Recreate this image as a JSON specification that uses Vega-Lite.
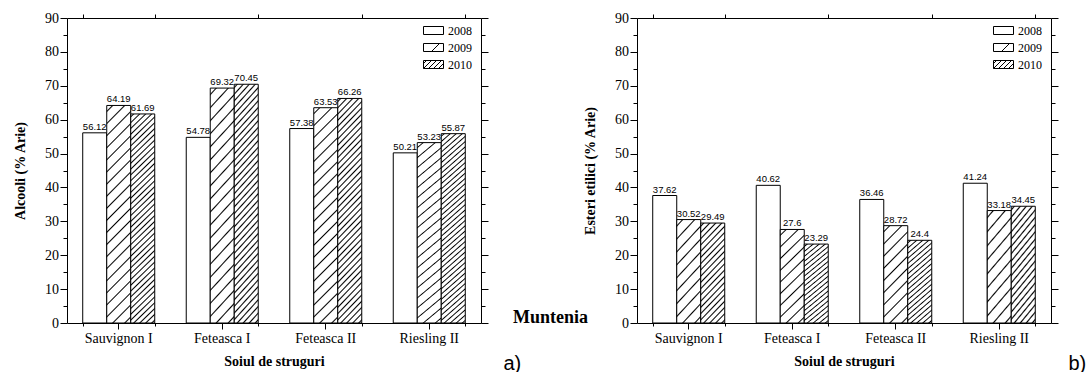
{
"$schema": "https://vega.github.io/schema/vega-lite/v6.json",
"padding": {"left": 13, "top": 10, "right": 0, "bottom": 0},
"bounds": "flush",
"spacing": 156,
"datasets": {
"alc": [
{"soi": "Sauvignon I", "an": "2008", "val": 56.12},
{"soi": "Sauvignon I", "an": "2009", "val": 64.19},
{"soi": "Sauvignon I", "an": "2010", "val": 61.69},
{"soi": "Feteasca I", "an": "2008", "val": 54.78},
{"soi": "Feteasca I", "an": "2009", "val": 69.32},
{"soi": "Feteasca I", "an": "2010", "val": 70.45},
{"soi": "Feteasca II", "an": "2008", "val": 57.38},
{"soi": "Feteasca II", "an": "2009", "val": 63.53},
{"soi": "Feteasca II", "an": "2010", "val": 66.26},
{"soi": "Riesling II", "an": "2008", "val": 50.21},
{"soi": "Riesling II", "an": "2009", "val": 53.23},
{"soi": "Riesling II", "an": "2010", "val": 55.87}
],
"est": [
{"soi": "Sauvignon I", "an": "2008", "val": 37.62},
{"soi": "Sauvignon I", "an": "2009", "val": 30.52},
{"soi": "Sauvignon I", "an": "2010", "val": 29.49},
{"soi": "Feteasca I", "an": "2008", "val": 40.62},
{"soi": "Feteasca I", "an": "2009", "val": 27.6},
{"soi": "Feteasca I", "an": "2010", "val": 23.29},
{"soi": "Feteasca II", "an": "2008", "val": 36.46},
{"soi": "Feteasca II", "an": "2009", "val": 28.72},
{"soi": "Feteasca II", "an": "2010", "val": 24.4},
{"soi": "Riesling II", "an": "2008", "val": 41.24},
{"soi": "Riesling II", "an": "2009", "val": 33.18},
{"soi": "Riesling II", "an": "2010", "val": 34.45}
]
},
"resolve": {"scale": {"fill": "independent"}, "legend": {"fill": "independent"}},
"hconcat": [
{
"width": 414, "height": 305,
"data": {"name": "alc"},
"resolve": {"axis": {"x": "independent", "y": "independent"}},
"layer": [
{
"mark": {"type": "bar", "stroke": "black", "strokeWidth": 1},
"encoding": {
"x": {"field": "soi", "type": "nominal", "sort": null, "scale": {"paddingInner": 0.30435, "paddingOuter": 0.152},
 "axis": {"orient": "bottom", "title": "Soiul de struguri", "titleFont": "Liberation Serif", "titleFontSize": 14, "titleFontWeight": "bold", "titlePadding": 9, "labelAngle": 0, "labelFont": "Liberation Serif", "labelFontSize": 14, "labelPadding": 2, "tickSize": 6, "domain": false, "grid": false}},
"xOffset": {"field": "an", "type": "nominal", "scale": {"paddingInner": 0, "paddingOuter": 0}},
"y": {"field": "val", "type": "quantitative", "scale": {"domain": [0, 90], "nice": false},
 "axis": {"orient": "left", "values": [0,5,10,15,20,25,30,35,40,45,50,55,60,65,70,75,80,85,90], "labelExpr": "datum.value % 10 === 0 ? datum.label : ''", "labelOverlap": false, "labelFlush": false, "tickSize": {"condition": {"test": "datum.value % 10 !== 0", "value": 4}, "value": 7}, "labelPadding": 1.5, "labelFont": "Liberation Serif", "labelFontSize": 14, "title": "Alcooli (% Arie)", "titleFont": "Liberation Serif", "titleFontSize": 14, "titleFontWeight": "bold", "titlePadding": 17, "domain": false, "grid": false}},
"fill": {"condition": [
 {"test": "datum.an === '2009'", "value": {"gradient": "linear", "x1": 0, "y1": 0, "x2": 0.12195, "y2": 1.09756, "stops": [
{"offset":0.019,"color":"#fff"},{"offset":0.025,"color":"#000"},{"offset":0.031,"color":"#fff"},
{"offset":0.069,"color":"#fff"},{"offset":0.075,"color":"#000"},{"offset":0.081,"color":"#fff"},
{"offset":0.119,"color":"#fff"},{"offset":0.125,"color":"#000"},{"offset":0.131,"color":"#fff"},
{"offset":0.169,"color":"#fff"},{"offset":0.175,"color":"#000"},{"offset":0.181,"color":"#fff"},
{"offset":0.219,"color":"#fff"},{"offset":0.225,"color":"#000"},{"offset":0.231,"color":"#fff"},
{"offset":0.269,"color":"#fff"},{"offset":0.275,"color":"#000"},{"offset":0.281,"color":"#fff"},
{"offset":0.319,"color":"#fff"},{"offset":0.325,"color":"#000"},{"offset":0.331,"color":"#fff"},
{"offset":0.369,"color":"#fff"},{"offset":0.375,"color":"#000"},{"offset":0.381,"color":"#fff"},
{"offset":0.419,"color":"#fff"},{"offset":0.425,"color":"#000"},{"offset":0.431,"color":"#fff"},
{"offset":0.469,"color":"#fff"},{"offset":0.475,"color":"#000"},{"offset":0.481,"color":"#fff"},
{"offset":0.519,"color":"#fff"},{"offset":0.525,"color":"#000"},{"offset":0.531,"color":"#fff"},
{"offset":0.569,"color":"#fff"},{"offset":0.575,"color":"#000"},{"offset":0.581,"color":"#fff"},
{"offset":0.619,"color":"#fff"},{"offset":0.625,"color":"#000"},{"offset":0.631,"color":"#fff"},
{"offset":0.669,"color":"#fff"},{"offset":0.675,"color":"#000"},{"offset":0.681,"color":"#fff"},
{"offset":0.719,"color":"#fff"},{"offset":0.725,"color":"#000"},{"offset":0.731,"color":"#fff"},
{"offset":0.769,"color":"#fff"},{"offset":0.775,"color":"#000"},{"offset":0.781,"color":"#fff"},
{"offset":0.819,"color":"#fff"},{"offset":0.825,"color":"#000"},{"offset":0.831,"color":"#fff"},
{"offset":0.869,"color":"#fff"},{"offset":0.875,"color":"#000"},{"offset":0.881,"color":"#fff"},
{"offset":0.919,"color":"#fff"},{"offset":0.925,"color":"#000"},{"offset":0.931,"color":"#fff"},
{"offset":0.969,"color":"#fff"},{"offset":0.975,"color":"#000"},{"offset":0.981,"color":"#fff"}
 ]}},
 {"test": "datum.an === '2010'", "value": {"gradient": "linear", "x1": 0, "y1": 0, "x2": 0.12195, "y2": 1.09756, "stops": [
{"offset":0.0065,"color":"#fff"},{"offset":0.0125,"color":"#000"},{"offset":0.0185,"color":"#fff"},
{"offset":0.0315,"color":"#fff"},{"offset":0.0375,"color":"#000"},{"offset":0.0435,"color":"#fff"},
{"offset":0.0565,"color":"#fff"},{"offset":0.0625,"color":"#000"},{"offset":0.0685,"color":"#fff"},
{"offset":0.0815,"color":"#fff"},{"offset":0.0875,"color":"#000"},{"offset":0.0935,"color":"#fff"},
{"offset":0.1065,"color":"#fff"},{"offset":0.1125,"color":"#000"},{"offset":0.1185,"color":"#fff"},
{"offset":0.1315,"color":"#fff"},{"offset":0.1375,"color":"#000"},{"offset":0.1435,"color":"#fff"},
{"offset":0.1565,"color":"#fff"},{"offset":0.1625,"color":"#000"},{"offset":0.1685,"color":"#fff"},
{"offset":0.1815,"color":"#fff"},{"offset":0.1875,"color":"#000"},{"offset":0.1935,"color":"#fff"},
{"offset":0.2065,"color":"#fff"},{"offset":0.2125,"color":"#000"},{"offset":0.2185,"color":"#fff"},
{"offset":0.2315,"color":"#fff"},{"offset":0.2375,"color":"#000"},{"offset":0.2435,"color":"#fff"},
{"offset":0.2565,"color":"#fff"},{"offset":0.2625,"color":"#000"},{"offset":0.2685,"color":"#fff"},
{"offset":0.2815,"color":"#fff"},{"offset":0.2875,"color":"#000"},{"offset":0.2935,"color":"#fff"},
{"offset":0.3065,"color":"#fff"},{"offset":0.3125,"color":"#000"},{"offset":0.3185,"color":"#fff"},
{"offset":0.3315,"color":"#fff"},{"offset":0.3375,"color":"#000"},{"offset":0.3435,"color":"#fff"},
{"offset":0.3565,"color":"#fff"},{"offset":0.3625,"color":"#000"},{"offset":0.3685,"color":"#fff"},
{"offset":0.3815,"color":"#fff"},{"offset":0.3875,"color":"#000"},{"offset":0.3935,"color":"#fff"},
{"offset":0.4065,"color":"#fff"},{"offset":0.4125,"color":"#000"},{"offset":0.4185,"color":"#fff"},
{"offset":0.4315,"color":"#fff"},{"offset":0.4375,"color":"#000"},{"offset":0.4435,"color":"#fff"},
{"offset":0.4565,"color":"#fff"},{"offset":0.4625,"color":"#000"},{"offset":0.4685,"color":"#fff"},
{"offset":0.4815,"color":"#fff"},{"offset":0.4875,"color":"#000"},{"offset":0.4935,"color":"#fff"},
{"offset":0.5065,"color":"#fff"},{"offset":0.5125,"color":"#000"},{"offset":0.5185,"color":"#fff"},
{"offset":0.5315,"color":"#fff"},{"offset":0.5375,"color":"#000"},{"offset":0.5435,"color":"#fff"},
{"offset":0.5565,"color":"#fff"},{"offset":0.5625,"color":"#000"},{"offset":0.5685,"color":"#fff"},
{"offset":0.5815,"color":"#fff"},{"offset":0.5875,"color":"#000"},{"offset":0.5935,"color":"#fff"},
{"offset":0.6065,"color":"#fff"},{"offset":0.6125,"color":"#000"},{"offset":0.6185,"color":"#fff"},
{"offset":0.6315,"color":"#fff"},{"offset":0.6375,"color":"#000"},{"offset":0.6435,"color":"#fff"},
{"offset":0.6565,"color":"#fff"},{"offset":0.6625,"color":"#000"},{"offset":0.6685,"color":"#fff"},
{"offset":0.6815,"color":"#fff"},{"offset":0.6875,"color":"#000"},{"offset":0.6935,"color":"#fff"},
{"offset":0.7065,"color":"#fff"},{"offset":0.7125,"color":"#000"},{"offset":0.7185,"color":"#fff"},
{"offset":0.7315,"color":"#fff"},{"offset":0.7375,"color":"#000"},{"offset":0.7435,"color":"#fff"},
{"offset":0.7565,"color":"#fff"},{"offset":0.7625,"color":"#000"},{"offset":0.7685,"color":"#fff"},
{"offset":0.7815,"color":"#fff"},{"offset":0.7875,"color":"#000"},{"offset":0.7935,"color":"#fff"},
{"offset":0.8065,"color":"#fff"},{"offset":0.8125,"color":"#000"},{"offset":0.8185,"color":"#fff"},
{"offset":0.8315,"color":"#fff"},{"offset":0.8375,"color":"#000"},{"offset":0.8435,"color":"#fff"},
{"offset":0.8565,"color":"#fff"},{"offset":0.8625,"color":"#000"},{"offset":0.8685,"color":"#fff"},
{"offset":0.8815,"color":"#fff"},{"offset":0.8875,"color":"#000"},{"offset":0.8935,"color":"#fff"},
{"offset":0.9065,"color":"#fff"},{"offset":0.9125,"color":"#000"},{"offset":0.9185,"color":"#fff"},
{"offset":0.9315,"color":"#fff"},{"offset":0.9375,"color":"#000"},{"offset":0.9435,"color":"#fff"},
{"offset":0.9565,"color":"#fff"},{"offset":0.9625,"color":"#000"},{"offset":0.9685,"color":"#fff"},
{"offset":0.9815,"color":"#fff"},{"offset":0.9875,"color":"#000"},{"offset":0.9935,"color":"#fff"}
 ]}}
], "value": "#fff"}
}
},
{
"mark": {"type": "text", "font": "Liberation Sans", "fontSize": 9.5, "baseline": "bottom", "dy": -1, "color": "black"},
"encoding": {
"x": {"field": "soi", "type": "nominal", "sort": null, "scale": {"paddingInner": 0.30435, "paddingOuter": 0.152},
 "axis": {"orient": "top", "tickBand": "extent", "labels": false, "title": null, "tickSize": 4, "domain": false, "grid": false}},
"xOffset": {"field": "an", "type": "nominal"},
"y": {"field": "val", "type": "quantitative", "scale": {"domain": [0, 90], "nice": false},
 "axis": {"orient": "right", "values": [0,5,10,15,20,25,30,35,40,45,50,55,60,65,70,75,80,85,90], "labels": false, "tickSize": {"condition": {"test": "datum.value % 10 !== 0", "value": 4}, "value": 7}, "domain": false, "grid": false,
  "title": "Muntenia", "titleAngle": 0, "titleFont": "Liberation Serif", "titleFontSize": 18, "titleFontWeight": "bold", "titleX": 69, "titleY": 304.5, "titleAlign": "center", "titleBaseline": "alphabetic"}},
"text": {"field": "val", "type": "nominal"}
}
},
{
"mark": {"type": "point", "filled": true, "opacity": 0, "shape": "M-1,-0.4H1V0.4H-1Z"},
"encoding": {
"x": {"field": "soi", "type": "nominal", "sort": null, "scale": {"paddingInner": 0.30435, "paddingOuter": 0.152},
 "axis": {"orient": "bottom", "tickBand": "extent", "labels": false, "tickSize": 3, "domain": false, "grid": false,
  "title": "a)", "titleFont": "Liberation Sans", "titleFontSize": 20, "titleFontWeight": "normal", "titleX": 436, "titleY": 46, "titleAlign": "left", "titleBaseline": "alphabetic", "titleAngle": 0}},
"xOffset": {"field": "an", "type": "nominal"},
"y": {"field": "val", "type": "quantitative", "scale": {"domain": [0, 90], "nice": false}, "axis": null},
"fill": {"field": "an", "type": "nominal", "scale": {"domain": ["2008","2009","2010"], "range": ["#ffffff", "#fefefe", "#fdfdfd"]},
 "legend": {"orient": "none", "legendX": 356, "legendY": 2, "title": null, "padding": 0, "symbolType": "M-1,-0.4H1V0.4H-1Z", "symbolSize": 400, "symbolStrokeColor": "black", "symbolStrokeWidth": 1, "labelFont": "Liberation Serif", "labelFontSize": 12, "labelOffset": 4, "rowPadding": -5,
  "encode": {"symbols": {"update": {"opacity": {"value": 1}, "stroke": {"value": "black"}, "strokeWidth": {"value": 1},
   "shape": [
    {"test": "datum.value === '2009'", "value": "M-1,-0.4H1V0.4H-1Z M-0.2,0.4L0.6,-0.4 M0.9,0.4L1,0.3"},
    {"test": "datum.value === '2010'", "value": "M-1,-0.4H1V0.4H-1Z M-1,-0.1L-0.7,-0.4 M-1,0.4L-0.2,-0.4 M-0.5,0.4L0.3,-0.4 M0,0.4L0.8,-0.4 M0.5,0.4L1,-0.1"},
    {"value": "M-1,-0.4H1V0.4H-1Z"}
   ]}}}}}
}
}
]
},
{
"width": 414, "height": 305,
"data": {"name": "est"},
"resolve": {"axis": {"x": "independent", "y": "independent"}},
"layer": [
{
"mark": {"type": "bar", "stroke": "black", "strokeWidth": 1},
"encoding": {
"x": {"field": "soi", "type": "nominal", "sort": null, "scale": {"paddingInner": 0.30435, "paddingOuter": 0.152},
 "axis": {"orient": "bottom", "title": "Soiul de struguri", "titleFont": "Liberation Serif", "titleFontSize": 14, "titleFontWeight": "bold", "titlePadding": 9, "labelAngle": 0, "labelFont": "Liberation Serif", "labelFontSize": 14, "labelPadding": 2, "tickSize": 6, "domain": false, "grid": false}},
"xOffset": {"field": "an", "type": "nominal", "scale": {"paddingInner": 0, "paddingOuter": 0}},
"y": {"field": "val", "type": "quantitative", "scale": {"domain": [0, 90], "nice": false},
 "axis": {"orient": "left", "values": [0,5,10,15,20,25,30,35,40,45,50,55,60,65,70,75,80,85,90], "labelExpr": "datum.value % 10 === 0 ? datum.label : ''", "labelOverlap": false, "labelFlush": false, "tickSize": {"condition": {"test": "datum.value % 10 !== 0", "value": 4}, "value": 7}, "labelPadding": 1.5, "labelFont": "Liberation Serif", "labelFontSize": 14, "title": "Esteri etilici (% Arie)", "titleFont": "Liberation Serif", "titleFontSize": 14, "titleFontWeight": "bold", "titlePadding": 17, "domain": false, "grid": false}},
"fill": {"condition": [
 {"test": "datum.an === '2009'", "value": {"gradient": "linear", "x1": 0, "y1": 0, "x2": 0.29412, "y2": 1.17647, "stops": [
{"offset":0.038,"color":"#fff"},{"offset":0.05,"color":"#000"},{"offset":0.062,"color":"#fff"},
{"offset":0.138,"color":"#fff"},{"offset":0.15,"color":"#000"},{"offset":0.162,"color":"#fff"},
{"offset":0.238,"color":"#fff"},{"offset":0.25,"color":"#000"},{"offset":0.262,"color":"#fff"},
{"offset":0.338,"color":"#fff"},{"offset":0.35,"color":"#000"},{"offset":0.362,"color":"#fff"},
{"offset":0.438,"color":"#fff"},{"offset":0.45,"color":"#000"},{"offset":0.462,"color":"#fff"},
{"offset":0.538,"color":"#fff"},{"offset":0.55,"color":"#000"},{"offset":0.562,"color":"#fff"},
{"offset":0.638,"color":"#fff"},{"offset":0.65,"color":"#000"},{"offset":0.662,"color":"#fff"},
{"offset":0.738,"color":"#fff"},{"offset":0.75,"color":"#000"},{"offset":0.762,"color":"#fff"},
{"offset":0.838,"color":"#fff"},{"offset":0.85,"color":"#000"},{"offset":0.862,"color":"#fff"},
{"offset":0.938,"color":"#fff"},{"offset":0.95,"color":"#000"},{"offset":0.962,"color":"#fff"}
 ]}},
 {"test": "datum.an === '2010'", "value": {"gradient": "linear", "x1": 0, "y1": 0, "x2": 0.29412, "y2": 1.17647, "stops": [
{"offset":0.013,"color":"#fff"},{"offset":0.025,"color":"#000"},{"offset":0.037,"color":"#fff"},
{"offset":0.063,"color":"#fff"},{"offset":0.075,"color":"#000"},{"offset":0.087,"color":"#fff"},
{"offset":0.113,"color":"#fff"},{"offset":0.125,"color":"#000"},{"offset":0.137,"color":"#fff"},
{"offset":0.163,"color":"#fff"},{"offset":0.175,"color":"#000"},{"offset":0.187,"color":"#fff"},
{"offset":0.213,"color":"#fff"},{"offset":0.225,"color":"#000"},{"offset":0.237,"color":"#fff"},
{"offset":0.263,"color":"#fff"},{"offset":0.275,"color":"#000"},{"offset":0.287,"color":"#fff"},
{"offset":0.313,"color":"#fff"},{"offset":0.325,"color":"#000"},{"offset":0.337,"color":"#fff"},
{"offset":0.363,"color":"#fff"},{"offset":0.375,"color":"#000"},{"offset":0.387,"color":"#fff"},
{"offset":0.413,"color":"#fff"},{"offset":0.425,"color":"#000"},{"offset":0.437,"color":"#fff"},
{"offset":0.463,"color":"#fff"},{"offset":0.475,"color":"#000"},{"offset":0.487,"color":"#fff"},
{"offset":0.513,"color":"#fff"},{"offset":0.525,"color":"#000"},{"offset":0.537,"color":"#fff"},
{"offset":0.563,"color":"#fff"},{"offset":0.575,"color":"#000"},{"offset":0.587,"color":"#fff"},
{"offset":0.613,"color":"#fff"},{"offset":0.625,"color":"#000"},{"offset":0.637,"color":"#fff"},
{"offset":0.663,"color":"#fff"},{"offset":0.675,"color":"#000"},{"offset":0.687,"color":"#fff"},
{"offset":0.713,"color":"#fff"},{"offset":0.725,"color":"#000"},{"offset":0.737,"color":"#fff"},
{"offset":0.763,"color":"#fff"},{"offset":0.775,"color":"#000"},{"offset":0.787,"color":"#fff"},
{"offset":0.813,"color":"#fff"},{"offset":0.825,"color":"#000"},{"offset":0.837,"color":"#fff"},
{"offset":0.863,"color":"#fff"},{"offset":0.875,"color":"#000"},{"offset":0.887,"color":"#fff"},
{"offset":0.913,"color":"#fff"},{"offset":0.925,"color":"#000"},{"offset":0.937,"color":"#fff"},
{"offset":0.963,"color":"#fff"},{"offset":0.975,"color":"#000"},{"offset":0.987,"color":"#fff"}
 ]}}
], "value": "#fff"}
}
},
{
"mark": {"type": "text", "font": "Liberation Sans", "fontSize": 9.5, "baseline": "bottom", "dy": -1, "color": "black"},
"encoding": {
"x": {"field": "soi", "type": "nominal", "sort": null, "scale": {"paddingInner": 0.30435, "paddingOuter": 0.152},
 "axis": {"orient": "top", "tickBand": "extent", "labels": false, "title": null, "tickSize": 4, "domain": false, "grid": false}},
"xOffset": {"field": "an", "type": "nominal"},
"y": {"field": "val", "type": "quantitative", "scale": {"domain": [0, 90], "nice": false},
 "axis": {"orient": "right", "values": [0,5,10,15,20,25,30,35,40,45,50,55,60,65,70,75,80,85,90], "labels": false, "title": null, "tickSize": {"condition": {"test": "datum.value % 10 !== 0", "value": 4}, "value": 7}, "domain": false, "grid": false}},
"text": {"field": "val", "type": "nominal"}
}
},
{
"mark": {"type": "point", "filled": true, "opacity": 0, "shape": "M-1,-0.4H1V0.4H-1Z"},
"encoding": {
"x": {"field": "soi", "type": "nominal", "sort": null, "scale": {"paddingInner": 0.30435, "paddingOuter": 0.152},
 "axis": {"orient": "bottom", "tickBand": "extent", "labels": false, "tickSize": 3, "domain": false, "grid": false,
  "title": "b)", "titleFont": "Liberation Sans", "titleFontSize": 20, "titleFontWeight": "normal", "titleX": 431, "titleY": 46, "titleAlign": "left", "titleBaseline": "alphabetic", "titleAngle": 0}},
"xOffset": {"field": "an", "type": "nominal"},
"y": {"field": "val", "type": "quantitative", "scale": {"domain": [0, 90], "nice": false}, "axis": null},
"fill": {"field": "an", "type": "nominal", "scale": {"domain": ["2008","2009","2010"], "range": ["#ffffff", "#fefefe", "#fdfdfd"]},
 "legend": {"orient": "none", "legendX": 356, "legendY": 2, "title": null, "padding": 0, "symbolType": "M-1,-0.4H1V0.4H-1Z", "symbolSize": 400, "symbolStrokeColor": "black", "symbolStrokeWidth": 1, "labelFont": "Liberation Serif", "labelFontSize": 12, "labelOffset": 4, "rowPadding": -5,
  "encode": {"symbols": {"update": {"opacity": {"value": 1}, "stroke": {"value": "black"}, "strokeWidth": {"value": 1},
   "shape": [
    {"test": "datum.value === '2009'", "value": "M-1,-0.4H1V0.4H-1Z M-0.2,0.4L0.6,-0.4 M0.9,0.4L1,0.3"},
    {"test": "datum.value === '2010'", "value": "M-1,-0.4H1V0.4H-1Z M-1,-0.1L-0.7,-0.4 M-1,0.4L-0.2,-0.4 M-0.5,0.4L0.3,-0.4 M0,0.4L0.8,-0.4 M0.5,0.4L1,-0.1"},
    {"value": "M-1,-0.4H1V0.4H-1Z"}
   ]}}}}}
}
}
]
}
],
"config": {
"font": "Liberation Serif",
"view": {"stroke": "black", "strokeWidth": 1},
"axis": {"tickColor": "black", "labelColor": "black", "titleColor": "black", "tickWidth": 1, "labelFont": "Liberation Serif", "titleFont": "Liberation Serif"},
"legend": {"labelColor": "black", "labelFont": "Liberation Serif"}
}
}
